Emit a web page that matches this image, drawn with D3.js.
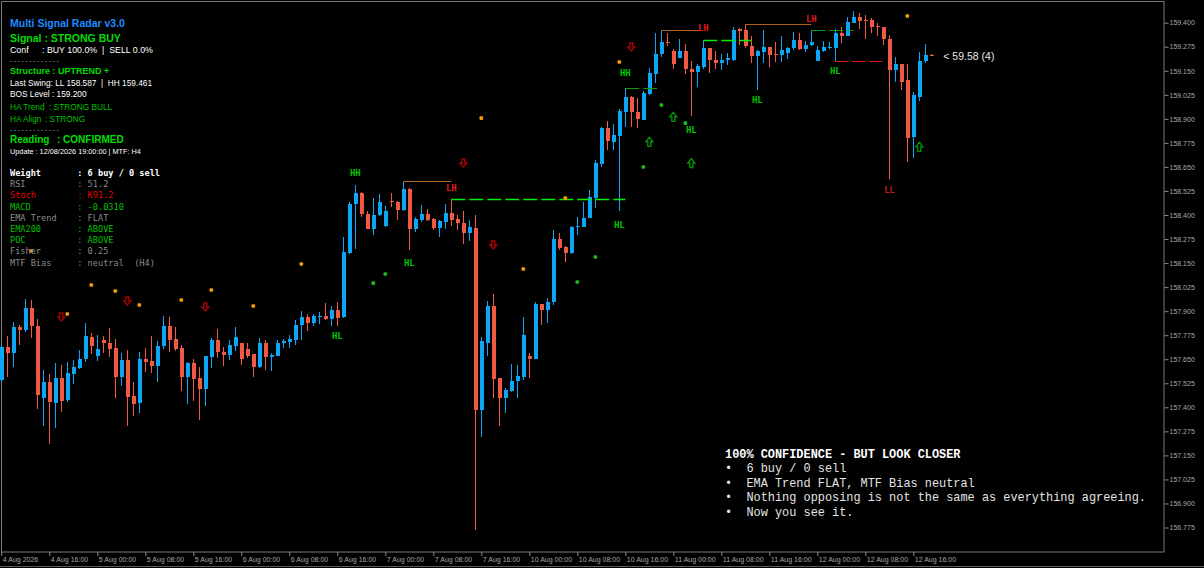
<!DOCTYPE html>
<html>
<head>
<meta charset="utf-8">
<script src="https://cdn.jsdelivr.net/npm/d3@7"></script>
<style>
  body { margin: 0; background: #000; overflow: hidden; }
  svg text { white-space: pre; }
</style>
</head>
<body>
<script>
// H1 candles, 4 Aug 2026 08:00 -> 12 Aug 2026 19:00 (weekend skipped)
const open = [157.542,157.714,157.682,157.818,157.802,157.916,157.823,157.448,157.532,157.422,
157.552,157.438,157.573,157.604,157.651,157.766,157.667,157.750,157.734,157.708,
157.558,157.646,157.459,157.422,157.651,157.641,157.615,157.719,157.823,157.755,
157.708,157.558,157.630,157.552,157.495,157.662,157.750,157.688,157.672,157.719,
157.734,157.703,157.677,157.610,157.734,157.662,157.667,157.734,157.740,157.750,
157.828,157.870,157.838,157.870,157.875,157.859,157.906,157.870,158.202,158.457,
158.514,158.405,158.327,158.400,158.343,158.473,158.468,158.426,158.535,158.327,
158.374,158.405,158.379,158.332,158.364,158.410,158.379,158.358,158.306,158.332,
157.386,157.734,157.927,157.552,157.448,157.485,157.537,157.558,157.667,157.651,
157.937,157.906,157.948,158.275,158.234,158.202,158.338,158.338,158.384,158.488,
158.665,158.852,158.780,158.811,158.936,159.014,158.936,158.894,159.029,159.133,
159.237,159.300,159.253,159.216,159.253,159.159,159.144,159.170,159.268,159.206,
159.190,159.206,159.206,159.367,159.362,159.279,159.227,159.248,159.274,159.237,
159.232,159.242,159.268,159.310,159.263,159.284,159.201,159.253,159.268,159.268,
159.346,159.331,159.398,159.430,159.414,159.414,159.383,159.378,159.315,159.154,
159.185,159.102,158.806,159.014,159.201,159.232];

const high = [157.724,157.771,157.844,157.828,157.963,157.958,157.859,157.594,157.573,157.630,
157.620,157.636,157.646,157.698,157.838,157.786,157.776,157.771,157.812,157.755,
157.682,157.698,157.532,157.688,157.708,157.771,157.745,157.875,157.870,157.818,
157.724,157.636,157.651,157.610,157.667,157.760,157.807,157.714,157.750,157.818,
157.734,157.734,157.677,157.760,157.750,157.682,157.750,157.755,157.776,157.854,
157.901,157.885,157.885,157.896,157.942,157.927,157.948,158.286,158.468,158.556,
158.520,158.421,158.488,158.509,158.447,158.514,158.473,158.577,158.540,158.390,
158.452,158.431,158.384,158.374,158.457,158.483,158.400,158.421,158.374,158.400,
157.766,157.953,157.989,157.552,157.500,157.625,157.620,157.870,157.682,157.948,
157.937,157.968,158.322,158.306,158.239,158.343,158.390,158.468,158.530,158.686,
158.858,158.889,158.873,158.951,159.060,159.019,159.008,159.045,159.164,159.346,
159.362,159.346,159.263,159.315,159.289,159.201,159.185,159.310,159.268,159.253,
159.237,159.242,159.378,159.372,159.393,159.331,159.258,159.362,159.274,159.300,
159.331,159.274,159.352,159.346,159.305,159.362,159.279,159.305,159.300,159.367,
159.378,159.430,159.461,159.450,159.440,159.424,159.398,159.378,159.336,159.222,
159.185,159.185,159.040,159.248,159.289,159.237];

const low = [157.532,157.558,157.610,157.724,157.792,157.760,157.391,157.303,157.209,157.292,
157.376,157.428,157.521,157.599,157.636,157.677,157.641,157.682,157.662,157.448,
157.511,157.303,157.355,157.370,157.584,157.578,157.532,157.703,157.688,157.693,
157.485,157.417,157.433,157.334,157.407,157.604,157.656,157.615,157.646,157.693,
157.620,157.656,157.558,157.604,157.594,157.589,157.667,157.708,157.708,157.724,
157.750,157.797,157.823,157.833,157.854,157.823,157.823,157.864,158.197,158.223,
158.390,158.327,158.296,158.395,158.338,158.442,158.374,158.421,158.218,158.312,
158.364,158.369,158.322,158.286,158.327,158.343,158.322,158.249,158.265,156.762,
157.246,157.667,157.448,157.303,157.370,157.480,157.448,157.542,157.552,157.651,
157.828,157.838,157.932,158.218,158.156,158.197,158.296,158.338,158.384,158.436,
158.650,158.738,158.738,158.421,158.858,158.858,158.852,158.894,159.024,159.086,
159.222,159.279,159.159,159.216,159.133,158.915,159.066,159.159,159.138,159.159,
159.154,159.180,159.201,159.284,159.268,159.190,159.050,159.190,159.170,159.196,
159.196,159.211,159.258,159.258,159.248,159.279,159.201,159.248,159.263,159.196,
159.294,159.331,159.398,159.367,159.315,159.346,159.331,159.284,158.587,159.092,
159.050,158.676,158.696,158.993,159.190,159.227];

const close = [157.714,157.682,157.818,157.802,157.916,157.823,157.464,157.532,157.428,157.552,
157.433,157.578,157.610,157.651,157.771,157.719,157.703,157.734,157.703,157.558,
157.646,157.454,157.417,157.651,157.636,157.615,157.719,157.823,157.750,157.703,
157.558,157.630,157.547,157.495,157.667,157.750,157.688,157.672,157.724,157.766,
157.651,157.667,157.610,157.734,157.662,157.672,157.734,157.745,157.755,157.828,
157.870,157.838,157.875,157.875,157.859,157.906,157.864,158.208,158.457,158.514,
158.405,158.327,158.400,158.468,158.421,158.468,158.426,158.535,158.327,158.379,
158.405,158.374,158.332,158.369,158.410,158.374,158.358,158.306,158.338,157.386,
157.745,157.927,157.547,157.448,157.490,157.537,157.563,157.776,157.651,157.937,
157.906,157.948,158.275,158.228,158.202,158.338,158.343,158.384,158.494,158.670,
158.852,158.785,158.816,158.941,159.014,158.936,158.899,159.034,159.138,159.237,
159.300,159.294,159.185,159.253,159.159,159.144,159.175,159.268,159.206,159.190,
159.206,159.216,159.362,159.357,159.279,159.227,159.253,159.274,159.232,159.232,
159.258,159.268,159.310,159.263,159.284,159.300,159.258,159.274,159.274,159.346,
159.331,159.404,159.430,159.409,159.409,159.378,159.378,159.315,159.154,159.185,
159.092,158.800,159.024,159.201,159.232,159.227];

const timeLabels = ['4 Aug 2026','4 Aug 16:00','5 Aug 00:00','5 Aug 08:00','5 Aug 16:00',
  '6 Aug 00:00','6 Aug 08:00','6 Aug 16:00','7 Aug 00:00','7 Aug 08:00','7 Aug 16:00',
  '10 Aug 00:00','10 Aug 08:00','10 Aug 16:00','11 Aug 00:00','11 Aug 08:00','11 Aug 16:00',
  '12 Aug 00:00','12 Aug 08:00','12 Aug 16:00'];
const timeTickBars = timeLabels.map((d, i) => i * 8);
const priceTicks = d3.range(0, 22).map(i => +(156.775 + i * 0.125).toFixed(3));

// markers: [bar index, price]
const orangeDots = [[5,158.213],[11,157.885],[15,158.036],[19,158.005],[23,157.932],[30,157.958],
  [35,158.010],[42,157.927],[50,158.145],[80,158.904],[87,158.119],[94,158.488],[103,159.196],[151,159.435]];
const greenDots = [[62,158.046],[64,158.093],[96,158.052],[99,158.182],[107,158.650],[110,158.972],[114,158.878]];
const sellArrows = [[10,157.870],[21,157.953],[34,157.922],[77,158.670],[82,158.244],[105,159.274]];
const buyArrows = [[108,158.780],[112,158.910],[115,158.670],[153,158.754]];
const swingLabels = [
  ['HL',56,157.771],['HH',59,158.618],['HL',68,158.150],['LH',75,158.540],
  ['HL',103,158.348],['HH',104,159.138],['HL',115,158.842],['LH',117,159.372],
  ['HL',126,158.998],['LH',135,159.419],['HL',139,159.149],['LL',148,158.530]
];
// levels: [from bar, to bar, price, kind]
const levels = [
  [67,75,158.577,'lh'],[110,116.5,159.362,'lh'],[124,135,159.393,'lh'],
  [75,104,158.483,'hl'],[117,125,159.310,'hl'],
  [104,109.3,159.060,'hh'],[135,142,159.362,'hh'],
  [139,147.3,159.200,'bos']
];

const panelLines = [
  ['Weight', '6 buy / 0 sell', '#ffffff', 'bold'],
  ['RSI', '51.2', '#8a8a8a', 'normal'],
  ['Stoch', 'K91.2', '#e60000', 'normal'],
  ['MACD', '-0.0310', '#00c000', 'normal'],
  ['EMA Trend', 'FLAT', '#8a8a8a', 'normal'],
  ['EMA200', 'ABOVE', '#00c000', 'normal'],
  ['POC', 'ABOVE', '#00c000', 'normal'],
  ['Fisher', '0.25', '#8a8a8a', 'normal'],
  ['MTF Bias', 'neutral  (H4)', '#8a8a8a', 'normal']
];
const noteLines = [
  '100% CONFIDENCE - BUT LOOK CLOSER',
  '•  6 buy / 0 sell',
  '•  EMA Trend FLAT, MTF Bias neutral',
  '•  Nothing opposing is not the same as everything agreeing.',
  '•  Now you see it.'
];

const W = 1204, H = 568;
const plotRight = 1164, plotBottom = 552;
const upColor = '#0ea5f5', downColor = '#f05a44';

const svg = d3.select('body').append('svg')
  .attr('width', W).attr('height', H)
  .style('background', '#000')
  .style('display', 'block');

const x = d3.scaleLinear().domain([0, 155]).range([1.3, 931.3]);
const y = d3.scaleLinear().domain([156.775, 159.4]).range([527.5, 22.7]);

const bars = open.map((o, i) => ({ i, o, h: high[i], l: low[i], c: close[i] }));

// FRAME
svg.append('rect')
  .attr('x', 1.5).attr('y', 1.5)
  .attr('width', plotRight - 1.5).attr('height', plotBottom - 1.5)
  .attr('fill', 'none').attr('stroke', '#7a7a7a');
svg.append('line')
  .attr('x1', 0).attr('x2', W).attr('y1', 566.5).attr('y2', 566.5)
  .attr('stroke', '#5a5a5a');

// PRICE AXIS
const yAxis = d3.axisRight(y)
  .tickValues(priceTicks)
  .tickFormat(d3.format('.3f'))
  .tickSize(4)
  .tickPadding(1);
const gy = svg.append('g')
  .attr('transform', `translate(${plotRight + 0.5},0)`)
  .call(yAxis);
gy.select('.domain').remove();
gy.selectAll('line').attr('stroke', '#8a8a8a');
gy.selectAll('text')
  .attr('fill', '#a8a8a8')
  .style('font-family', '"Liberation Sans", Arial, sans-serif')
  .style('font-size', '7px');

// TIME AXIS
const xAxis = d3.axisBottom(x)
  .tickValues(timeTickBars)
  .tickFormat((d, i) => timeLabels[i])
  .tickSize(4);
const gx = svg.append('g')
  .attr('transform', `translate(0,${plotBottom})`)
  .call(xAxis);
gx.select('.domain').remove();
gx.selectAll('line').attr('stroke', '#8a8a8a');
gx.selectAll('text')
  .attr('text-anchor', 'start')
  .attr('x', 1)
  .attr('y', 5)
  .attr('fill', '#a8a8a8')
  .style('font-family', '"Liberation Sans", Arial, sans-serif')
  .style('font-size', '7px');

// CANDLES
const candles = svg.append('g').attr('shape-rendering', 'crispEdges');
candles.selectAll('line.wick')
  .data(bars)
  .enter()
  .append('line')
  .attr('class', 'wick')
  .attr('x1', d => Math.round(x(d.i)) + 0.5)
  .attr('x2', d => Math.round(x(d.i)) + 0.5)
  .attr('y1', d => y(d.h))
  .attr('y2', d => y(d.l))
  .attr('stroke', d => (d.c >= d.o ? upColor : downColor))
  .attr('stroke-width', 1);
candles.selectAll('rect.body')
  .data(bars)
  .enter()
  .append('rect')
  .attr('class', 'body')
  .attr('x', d => Math.round(x(d.i)) - 1.5)
  .attr('y', d => y(Math.max(d.o, d.c)))
  .attr('width', 4)
  .attr('height', d => Math.max(1, Math.abs(y(d.o) - y(d.c))))
  .attr('fill', d => (d.c >= d.o ? upColor : downColor));

// STRUCTURE LEVELS
const levelStyle = {
  lh: { stroke: '#b0601a', dash: null, w: 1 },
  hl: { stroke: '#00f000', dash: '14,4', w: 1.4 },
  hh: { stroke: '#0a9a0a', dash: '14,4', w: 1 },
  bos: { stroke: '#e01818', dash: '13,4', w: 1.2 }
};
svg.append('g')
  .selectAll('line')
  .data(levels)
  .enter()
  .append('line')
  .attr('x1', d => x(d[0]))
  .attr('x2', d => x(d[1]))
  .attr('y1', d => Math.round(y(d[2])) + 0.5)
  .attr('y2', d => Math.round(y(d[2])) + 0.5)
  .attr('stroke', d => levelStyle[d[3]].stroke)
  .attr('stroke-dasharray', d => levelStyle[d[3]].dash)
  .attr('stroke-width', d => levelStyle[d[3]].w);

// DOTS
svg.append('g')
  .selectAll('rect')
  .data(orangeDots)
  .enter()
  .append('rect')
  .attr('x', d => x(d[0]) - 1.8)
  .attr('y', d => y(d[1]) - 1.8)
  .attr('width', 3.6).attr('height', 3.6)
  .attr('rx', 1)
  .attr('fill', '#f59a00');
svg.append('g')
  .selectAll('rect')
  .data(greenDots)
  .enter()
  .append('rect')
  .attr('x', d => x(d[0]) - 1.8)
  .attr('y', d => y(d[1]) - 1.8)
  .attr('width', 3.6).attr('height', 3.6)
  .attr('rx', 1)
  .attr('fill', '#1fb81f');

// ARROWS
const arrowDown = (cx, cy) =>
  `M${cx - 1.5},${cy - 4}L${cx + 1.5},${cy - 4}L${cx + 1.5},${cy}L${cx + 3.5},${cy}` +
  `L${cx},${cy + 4}L${cx - 3.5},${cy}L${cx - 1.5},${cy}Z`;
const arrowUp = (cx, cy) =>
  `M${cx - 1.5},${cy + 4.5}L${cx + 1.5},${cy + 4.5}L${cx + 1.5},${cy}L${cx + 3.5},${cy}` +
  `L${cx},${cy - 4.5}L${cx - 3.5},${cy}L${cx - 1.5},${cy}Z`;
svg.append('g')
  .selectAll('path')
  .data(sellArrows)
  .enter()
  .append('path')
  .attr('d', d => arrowDown(x(d[0]), y(d[1])))
  .attr('fill', 'none')
  .attr('stroke', '#b80000')
  .attr('stroke-width', 1.3);
svg.append('g')
  .selectAll('path')
  .data(buyArrows)
  .enter()
  .append('path')
  .attr('d', d => arrowUp(x(d[0]), y(d[1])))
  .attr('fill', 'none')
  .attr('stroke', '#009a00')
  .attr('stroke-width', 1.3);

// SWING LABELS
const swingColor = { HH: '#00c400', HL: '#00c400', LH: '#e81818', LL: '#c01818' };
svg.append('g')
  .selectAll('text')
  .data(swingLabels)
  .enter()
  .append('text')
  .attr('x', d => x(d[1]))
  .attr('y', d => y(d[2]))
  .attr('dy', '0.35em')
  .attr('text-anchor', 'middle')
  .attr('fill', d => swingColor[d[0]])
  .style('font-family', '"DejaVu Sans Mono", monospace')
  .style('font-weight', 'bold')
  .style('font-size', '9px')
  .text(d => d[0]);

// LAST PRICE TAG
svg.append('text')
  .attr('x', x(155) + 12)
  .attr('y', y(close[155]))
  .attr('dy', '0.36em')
  .attr('fill', '#e6e6e6')
  .style('font-family', '"Liberation Sans", Arial, sans-serif')
  .style('font-size', '10.5px')
  .text('< 59.58 (4)');

// TOP-LEFT PANEL
const sans = '"Liberation Sans", Arial, sans-serif';
const head = svg.append('g').style('font-family', sans);
const headText = (tx, ty, txt, color, size, weight) =>
  head.append('text')
    .attr('x', tx).attr('y', ty)
    .attr('fill', color)
    .style('font-size', size + 'px')
    .style('font-weight', weight || 'normal')
    .text(txt);

headText(10, 27, 'Multi Signal Radar v3.0', '#1e8cff', 10.5, 'bold');
headText(10, 42, 'Signal : STRONG BUY', '#00dd00', 10.5, 'bold');
headText(10, 53, 'Conf', '#ffffff', 8.8);
headText(42, 53, ': BUY 100.0%  |  SELL 0.0%', '#ffffff', 8.8);
headText(10, 62, '. . . . . . . . . . . . .', '#ffffff', 7);
headText(10, 74, 'Structure : UPTREND +', '#00dd00', 9, 'bold');
headText(10, 86, 'Last Swing: LL 158.587  |  HH 159.461', '#ffffff', 8.3);
headText(10, 97, 'BOS Level : 159.200', '#ffffff', 8.3);
headText(10, 110, 'HA Trend', '#00c000', 8.3);
headText(49, 110, ': STRONG BULL', '#00c000', 8.3);
headText(10, 122, 'HA Align', '#00c000', 8.3);
headText(45, 122, ': STRONG', '#00c000', 8.3);
headText(10, 131, '. . . . . . . . . . . . .', '#ffffff', 7);
headText(10, 143, 'Reading', '#00dd00', 10, 'bold');
headText(57, 143, ': CONFIRMED', '#00dd00', 10, 'bold');
headText(10, 154, 'Update : 12/08/2026 19:00:00 | MTF: H4', '#ffffff', 7.3);

// INDICATOR PANEL
svg.append('g')
  .selectAll('text')
  .data(panelLines)
  .enter()
  .append('text')
  .attr('x', 10)
  .attr('y', (d, i) => 176 + i * 11.2)
  .attr('fill', d => d[2])
  .style('font-family', '"DejaVu Sans Mono", monospace')
  .style('font-size', '8.6px')
  .style('font-weight', d => d[3])
  .text(d => d[0].padEnd(13, ' ') + ': ' + d[1]);

// NOTE
svg.append('g')
  .selectAll('text')
  .data(noteLines)
  .enter()
  .append('text')
  .attr('x', 725)
  .attr('y', (d, i) => 457.5 + i * 14.5)
  .attr('fill', (d, i) => (i === 0 ? '#ffffff' : '#e4e4e4'))
  .style('font-family', '"Liberation Mono", "Courier New", monospace')
  .style('font-size', '11.9px')
  .style('font-weight', (d, i) => (i === 0 ? 'bold' : 'normal'))
  .text(d => d);
</script>
</body>
</html>
